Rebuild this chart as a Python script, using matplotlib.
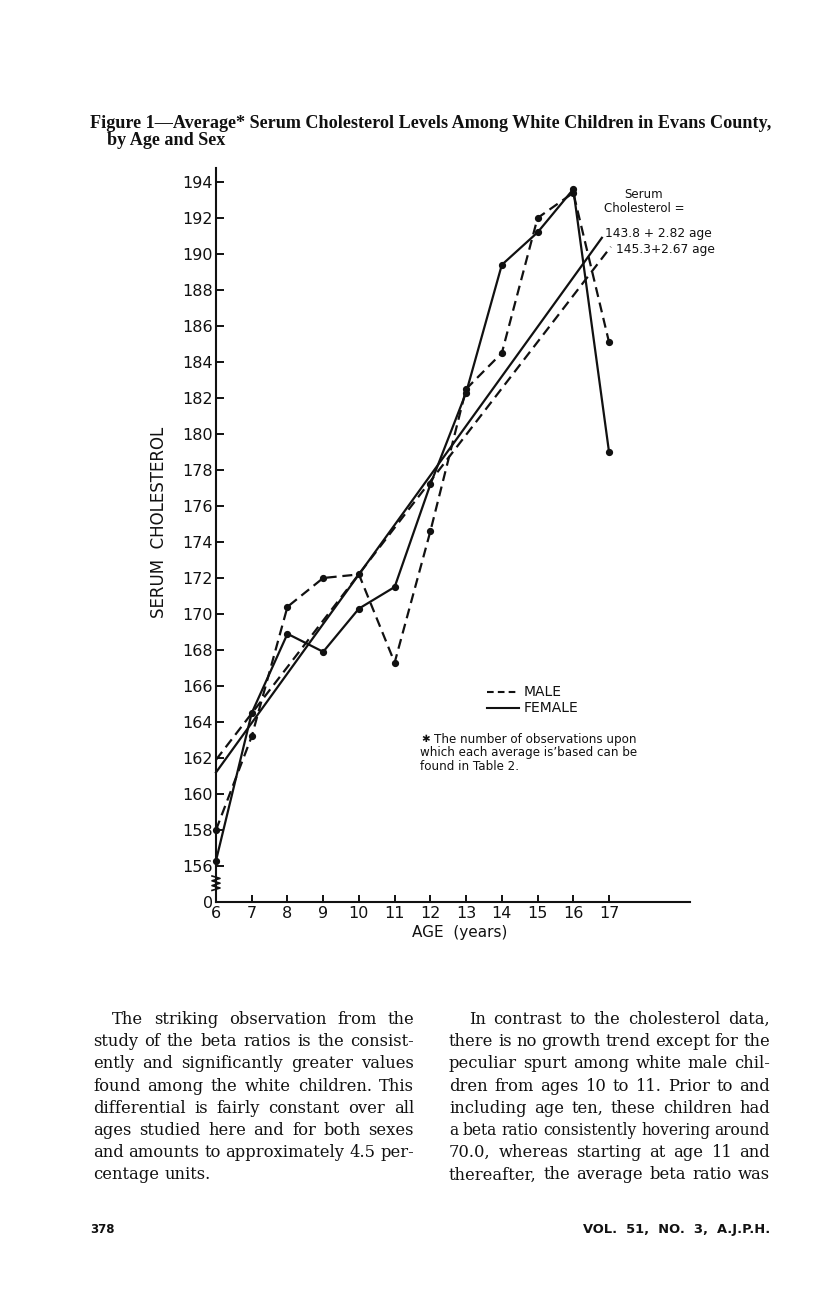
import matplotlib
matplotlib.use('Agg')
import matplotlib.pyplot as plt
from matplotlib.lines import Line2D

W, H = 816, 1289

# serum cholesterol by age
ages = [6, 7, 8, 9, 10, 11, 12, 13, 14, 15, 16, 17]
male = [158.0, 163.2, 170.4, 172.0, 172.2, 167.3, 174.6, 182.5, 184.5, 192.0, 193.4, 185.1]
female = [156.3, 164.5, 168.9, 167.9, 170.3, 171.5, 177.2, 182.3, 189.4, 191.2, 193.6, 179.0]

# fitted lines, end points as drawn
male_fit_x = [6, 17.05]
male_fit_y = [161.9, 190.4]
female_fit_x = [6, 16.8]
female_fit_y = [161.2, 190.9]

y_ticks = list(range(154, 195, 2))
y_labels = ['0'] + [str(v) for v in range(156, 195, 2)]
x_ticks = ages
x_labels = [str(a) for a in ages]

title_lines = ['Figure 1\u2014Average* Serum Cholesterol Levels Among White Children in Evans County,',
               'by Age and Sex']
note_lines = ['The number of observations upon',
              'which each average is\u2019based can be',
              'found in Table 2.']
left_col = ['The striking observation from the',
            'study of the beta ratios is the consist-',
            'ently and significantly greater values',
            'found among the white children. This',
            'differential is fairly constant over all',
            'ages studied here and for both sexes',
            'and amounts to approximately 4.5 per-',
            'centage units.']
right_col = ['In contrast to the cholesterol data,',
             'there is no growth trend except for the',
             'peculiar spurt among white male chil-',
             'dren from ages 10 to 11. Prior to and',
             'including age ten, these children had',
             'a beta ratio consistently hovering around',
             '70.0, whereas starting at age 11 and',
             'thereafter, the average beta ratio was']

SANS = 'DejaVu Sans'
SERIF = 'DejaVu Serif'
INK = '#111111'


def fx(px):
    return px / W


def fy(py):
    return 1 - py / H


def put_justified(fig, renderer, lines, x0, x1, y0, step, indent, size, last_ragged):
    min_gap = 4.0
    for i, line in enumerate(lines):
        words = line.split()
        y = fy(y0 + i * step)
        start = x0 + (indent if i == 0 else 0)
        texts = [fig.text(0, y, w, fontsize=size, family=SERIF, va='baseline', color=INK)
                 for w in words]
        widths = [t.get_window_extent(renderer).width for t in texts]
        n = len(words)
        # squeeze a line that is too long for the column
        if n > 1 and x1 - start - sum(widths) < min_gap * (n - 1):
            k = (x1 - start - min_gap * (n - 1)) / sum(widths)
            for t in texts:
                t.set_fontsize(size * k)
            widths = [t.get_window_extent(renderer).width for t in texts]
        if n > 1 and not (last_ragged and i == len(lines) - 1):
            gap = (x1 - start - sum(widths)) / (n - 1)
        else:
            gap = size * 100 / 72 * 0.318
        x = start
        for t, w in zip(texts, widths):
            t.set_x(fx(x))
            x += w + gap


def main():
    fig = plt.figure(figsize=(W / 100, H / 100), dpi=100, facecolor='white')
    renderer = fig.canvas.get_renderer()

    ax = fig.add_axes([fx(216), fy(902), (690 - 216) / W, (902 - 168) / H])
    ax.set_xlim(6, 6 + (690 - 216) / 35.73)
    ax.set_ylim(154, 154 + (902 - 168) / 18.0)
    for s in ['top', 'right']:
        ax.spines[s].set_visible(False)
    for s in ['left', 'bottom']:
        ax.spines[s].set_linewidth(1.5)
        ax.spines[s].set_color(INK)

    ax.set_yticks(y_ticks)
    ax.set_yticklabels(y_labels, fontsize=11.5, family=SANS, color=INK)
    ax.set_xticks(x_ticks)
    ax.set_xticklabels(x_labels, fontsize=11.5, family=SANS, color=INK)
    ax.tick_params(axis='y', direction='in', length=6, width=1.4, pad=2, colors=INK)
    ax.tick_params(axis='x', direction='in', length=5, width=1.4, pad=3, colors=INK)

    dash = (0, (4.5, 2.6))
    ax.plot(ages, male, color=INK, lw=1.6, ls=dash, marker='o', ms=4.2, clip_on=False)
    ax.plot(ages, female, color=INK, lw=1.6, ls='-', marker='o', ms=4.2, clip_on=False)
    ax.plot(male_fit_x, male_fit_y, color=INK, lw=1.6, ls=dash, clip_on=False)
    ax.plot(female_fit_x, female_fit_y, color=INK, lw=1.6, ls='-', clip_on=False)

    # axis break on the y axis
    zx = [fx(216 + (-4 if k % 2 == 0 else 4)) for k in range(7)]
    zy = [fy(876 + 2.4 * k) for k in range(7)]
    fig.add_artist(Line2D(zx, zy, color=INK, lw=1.2))

    fig.text(fx(159), fy(522), 'SERUM  CHOLESTEROL', rotation=90, ha='center', va='center',
             fontsize=12, family=SANS, color=INK)
    fig.text(fx(460), fy(933), 'AGE  (years)', ha='center', va='center',
             fontsize=11, family=SANS, color=INK)

    # equation labels
    fig.text(fx(644), fy(195), 'Serum', ha='center', va='center', fontsize=8.5, family=SANS, color=INK)
    fig.text(fx(644), fy(208), 'Cholesterol =', ha='center', va='center', fontsize=8.5,
             family=SANS, color=INK)
    fig.text(fx(605), fy(234), '143.8 + 2.82 age', ha='left', va='center', fontsize=8.8,
             family=SANS, color=INK)
    fig.text(fx(616), fy(250), '145.3+2.67 age', ha='left', va='center', fontsize=8.8,
             family=SANS, color=INK)

    # legend
    fig.add_artist(Line2D([fx(487), fx(519)], [fy(692)] * 2, color=INK, lw=1.5, ls=(0, (3.2, 2))))
    fig.add_artist(Line2D([fx(487), fx(519)], [fy(708)] * 2, color=INK, lw=1.5))
    fig.text(fx(524), fy(692), 'MALE', va='center', fontsize=10, family=SANS, color=INK)
    fig.text(fx(524), fy(708), 'FEMALE', va='center', fontsize=10, family=SANS, color=INK)

    # footnote
    fig.text(fx(421), fy(739), '\u2731', va='center', fontsize=7.5, family=SANS, color=INK)
    fig.text(fx(434), fy(739), note_lines[0], va='center', fontsize=8.6, family=SANS, color=INK)
    fig.text(fx(420), fy(752.5), note_lines[1], va='center', fontsize=8.6, family=SANS, color=INK)
    fig.text(fx(420), fy(766), note_lines[2], va='center', fontsize=8.6, family=SANS, color=INK)

    # caption
    fig.text(fx(90), fy(128), title_lines[0], va='baseline', fontsize=13.05,
             family='Liberation Serif', fontweight='bold', color=INK)
    fig.text(fx(107), fy(145), title_lines[1], va='baseline', fontsize=13.05,
             family='Liberation Serif', fontweight='bold', color=INK)

    # body text
    put_justified(fig, renderer, left_col, 93, 414, 1024, 22.2, 19, 11.8, True)
    put_justified(fig, renderer, right_col, 449, 770, 1024, 22.2, 20, 11.8, False)

    # running foot
    fig.text(fx(90), fy(1233), '378', va='baseline', fontsize=8.5, family=SANS,
             fontweight='bold', color=INK)
    fig.text(fx(770), fy(1233), 'VOL.  51,  NO.  3,  A.J.P.H.', ha='right', va='baseline',
             fontsize=9.4, family=SANS, fontweight='bold', color=INK)

    fig.savefig('out.png', dpi=100, facecolor='white')


if __name__ == '__main__':
    main()
